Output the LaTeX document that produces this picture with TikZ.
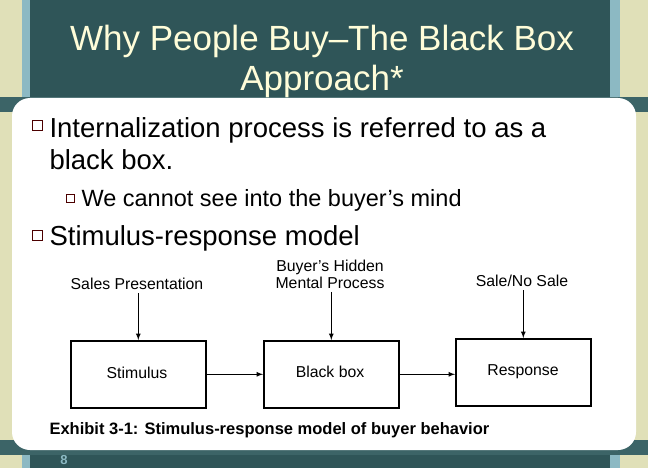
\documentclass[tikz,border=0pt]{standalone}
\usepackage{fontspec}
\setmainfont{Liberation Sans}
\begin{document}
\begin{tikzpicture}[x=1pt,y=-1pt,
  sbox/.style={draw,line width=1.6pt,minimum width=135pt,minimum height=67pt,anchor=north west},
  lbl/.style={font=\fontsize{15.8}{17}\selectfont,align=center},
  arr/.style={-latex,line width=1.2pt},
  bul/.style={draw=black!70!red,line width=0.8pt,fill=white}]
\useasboundingbox (0,0) rectangle (648,468);
\fill[color={rgb,255:red,47;green,85;blue,88}] (0,0) rectangle (648,468);
\fill[color={rgb,255:red,224;green,224;blue,184}] (0,0) rectangle (22,468);
\fill[color={rgb,255:red,140;green,185;blue,195}] (22,0) rectangle (30,468);
\fill[color={rgb,255:red,140;green,185;blue,195}] (610,0) rectangle (620,468);
\fill[color={rgb,255:red,224;green,224;blue,184}] (620,0) rectangle (648,468);
\fill[color={rgb,255:red,60;green,100;blue,103}] (0,97) rectangle (648,112);
\fill[color={rgb,255:red,60;green,100;blue,103}] (0,440) rectangle (648,455);
\fill[white,rounded corners=18pt] (12,98) rectangle (636,450);
\node (title) at (322,61) [align=center,text=yellow!15,font=\fontsize{35}{40}\selectfont] {Why People Buy–The Black Box\\Approach*};
\draw[bul] (32,120) rectangle (42,130);
\node (b1) at (46,114) [anchor=north west,align=left,font=\fontsize{27.5}{32}\selectfont] {Internalization process is referred to as a\\black box.};
\draw[bul] (66,194) rectangle (74,202);
\node (b2) at (78,186) [anchor=north west,font=\fontsize{23.5}{26}\selectfont] {We cannot see into the buyer’s mind};
\draw[bul] (32,230) rectangle (42,240);
\node (b3) at (46,222) [anchor=north west,font=\fontsize{27.5}{32}\selectfont] {Stimulus-response model};
\node[sbox] (s) at (70,340) {};
\node[sbox] (k) at (263,340) {};
\node[sbox] (r) at (455,338) {};
\node[lbl] at (137,373) {Stimulus};
\node[lbl] at (330,372) {Black box};
\node[lbl] at (523,372) {Response};
\node[lbl] (t1) at (137,284) {Sales Presentation};
\node[lbl] (t2) at (330,274) {Buyer’s Hidden\\Mental Process};
\node[lbl] (t3) at (522,281) {Sale/No Sale};
\draw[arr] (t1.south -| s.north) -- (s.north);
\draw[arr] (t2.south -| k.north) -- (k.north);
\draw[arr] (t3.south -| r.north) -- (r.north);
\draw[arr] (s.east) -- (s.east -| k.west);
\draw[arr] (k.east) -- (k.east -| r.west);
\node (cap) at (46,430) [anchor=west,font=\bfseries\fontsize{16.5}{18}\selectfont] {Exhibit 3-1: Stimulus-response model of buyer behavior};
\node (pg) at (64,460) [text={rgb,255:red,140;green,185;blue,195},font=\bfseries\fontsize{13}{14}\selectfont] {8};
\end{tikzpicture}
\end{document}
